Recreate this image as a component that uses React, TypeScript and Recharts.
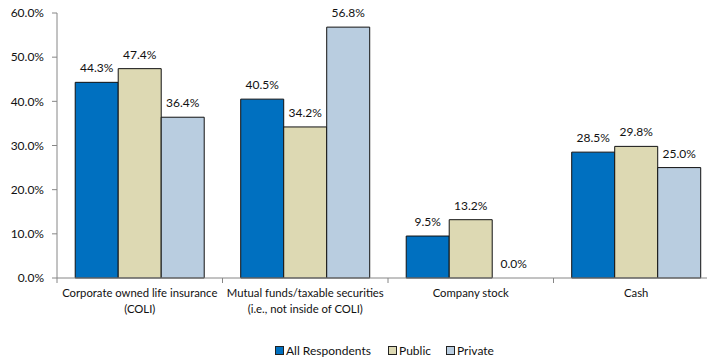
import React from 'react'
import { BarChart, Bar, XAxis, YAxis, Legend, Rectangle } from 'recharts'

const CATEGORIES = [
  'Corporate owned life insurance\n(COLI)',
  'Mutual funds/taxable securities\n(i.e., not inside of COLI)',
  'Company stock',
  'Cash',
]
const ALL_RESPONDENTS = [44.3, 40.5, 9.5, 28.5]
const PUBLIC = [47.4, 34.2, 13.2, 29.8]
const PRIVATE = [36.4, 56.8, 0.0, 25.0]
const Y_TICKS = [0, 10, 20, 30, 40, 50, 60]

const SERIES = [
  { key: 'all', name: 'All Respondents', color: '#0070C0' },
  { key: 'pub', name: 'Public', color: '#DDD9B3' },
  { key: 'priv', name: 'Private', color: '#B9CDE0' },
]

const data = CATEGORIES.map((c, i) => ({
  category: c,
  all: ALL_RESPONDENTS[i],
  pub: PUBLIC[i],
  priv: PRIVATE[i],
}))

const CHART_W = 730
const CHART_H = 360
const Y_AXIS_W = 57
const RIGHT = 11
const BAND = (CHART_W - Y_AXIS_W - RIGHT) / CATEGORIES.length
const FONT = 'Lato, "Open Sans", sans-serif'
const AXIS_COLOR = '#868686'

const pct = (v: number) => `${Number(v).toFixed(1)}%`

function CategoryTick(props: any) {
  const { x, y, payload, index } = props
  const lines = String(payload.value).split('\n')
  return (
    <g>
      {index === 0 && (
        <line x1={x - BAND / 2} y1={y} x2={x - BAND / 2} y2={y + 5} stroke={AXIS_COLOR} />
      )}
      <line x1={x + BAND / 2} y1={y} x2={x + BAND / 2} y2={y + 5} stroke={AXIS_COLOR} />
      <text x={x} y={y} textAnchor="middle" fontSize={11.3} fill="#111" fontFamily={FONT}>
        {lines.map((l, i) => (
          <tspan key={i} x={x} dy={i === 0 ? 19 : 16}>
            {l}
          </tspan>
        ))}
      </text>
    </g>
  )
}

// bar with its value printed above it (also for zero-height bars)
function makeShape(key: string) {
  return (p: any) => (
    <g>
      <Rectangle x={p.x} y={p.y} width={p.width} height={p.height} fill={p.fill} stroke={p.stroke} strokeWidth={1} />
      <text
        x={p.x + p.width / 2}
        y={p.y - 10}
        textAnchor="middle"
        fontSize={12}
        fill="#111"
        fontFamily={FONT}
      >
        {pct(p.payload[key])}
      </text>
    </g>
  )
}

function LegendContent() {
  return (
    <div
      style={{
        position: 'relative',
        height: 32,
        fontFamily: FONT,
        fontSize: 12,
        color: '#111',
      }}
    >
      {SERIES.map((s, i) => (
        <div
          key={s.key}
          style={{
            position: 'absolute',
            left: [275, 388, 446][i],
            top: 15,
            display: 'flex',
            alignItems: 'center',
            whiteSpace: 'nowrap',
          }}
        >
          <span
            style={{
              display: 'inline-block',
              width: 7,
              height: 7,
              background: s.color,
              border: '1px solid #222',
              marginRight: 2,
            }}
          />
          {s.name}
        </div>
      ))}
    </div>
  )
}

export default function App() {
  return (
    <div
      style={{
        position: 'absolute',
        left: 0,
        top: 0,
        width: 707,
        height: 360,
        overflow: 'hidden',
        background: '#fff',
      }}
    >
      <BarChart
        width={CHART_W}
        height={CHART_H}
        data={data}
        margin={{ top: 13, right: RIGHT, left: 0, bottom: 0 }}
        barCategoryGap="11%"
        barGap={0}
      >
        <XAxis
          dataKey="category"
          interval={0}
          height={50}
          tickSize={0}
          tickMargin={0}
          tickLine={false}
          axisLine={{ stroke: AXIS_COLOR }}
          tick={<CategoryTick />}
        />
        <YAxis
          width={Y_AXIS_W}
          domain={[0, 60]}
          ticks={Y_TICKS}
          tickFormatter={pct}
          tickSize={5}
          tickMargin={8}
          axisLine={{ stroke: AXIS_COLOR }}
          tickLine={{ stroke: AXIS_COLOR }}
          tick={{ fontSize: 12, fill: '#111', fontFamily: FONT }}
        />
        <Legend
          verticalAlign="bottom"
          content={<LegendContent />}
          wrapperStyle={{ left: 0, width: CHART_W, height: 32 }}
        />
        {SERIES.map((s) => (
          <Bar
            key={s.key}
            dataKey={s.key}
            name={s.name}
            fill={s.color}
            stroke="#111"
            strokeWidth={1}
            shape={makeShape(s.key)}
            isAnimationActive={false}
          />
        ))}
      </BarChart>
    </div>
  )
}
